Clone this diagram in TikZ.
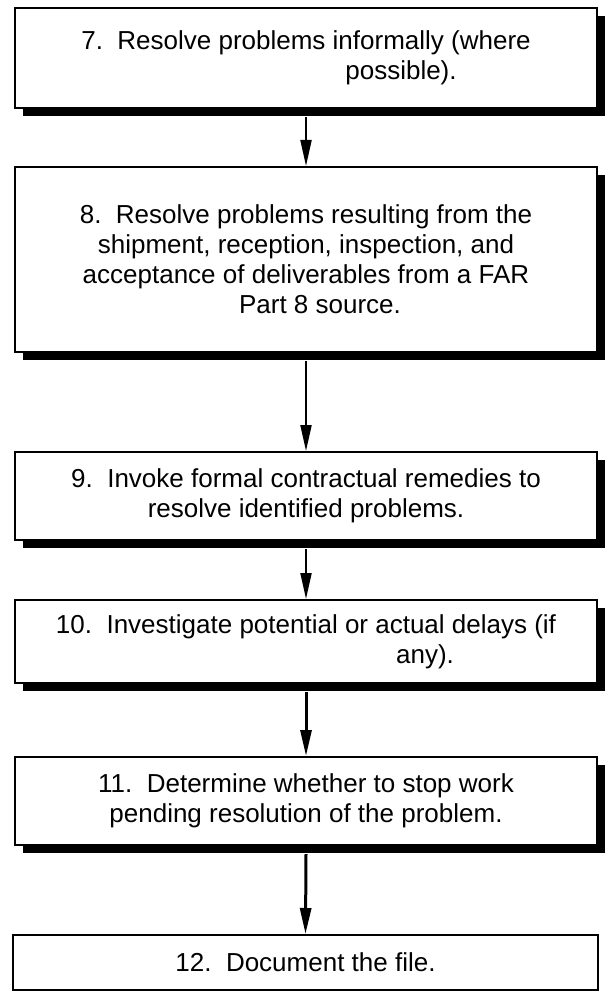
\documentclass[tikz,border=0pt]{standalone}
\usepackage{fontspec}
\setmainfont{Liberation Sans}
\usetikzlibrary{arrows.meta,shadows}
\tikzset{
  stepbox/.style={draw=black, line width=2pt, fill=white, align=center,
    font=\fontsize{26pt}{30pt}\selectfont, inner sep=0pt,
    minimum width=582pt, anchor=center},
  shadowed/.style={drop shadow={shadow xshift=8pt, shadow yshift=-8pt, opacity=1, fill=black}},
  flow/.style={draw=black, line width=2pt, -{Triangle[width=11pt,length=26pt]}},
  flowthick/.style={flow, line width=3pt}
}
\begin{document}
\begin{tikzpicture}[x=1pt,y=-1pt]
\useasboundingbox (0,0) rectangle (605,1000);
\node[stepbox, shadowed, minimum height=100pt] (s7) at (306,58)
  {7.\ \ Resolve problems informally (where\\\hspace*{190pt}possible).};
\node[stepbox, shadowed, minimum height=185pt] (s8) at (306,259.5)
  {8.\ \ Resolve problems resulting from the\\shipment, reception, inspection, and\\acceptance of deliverables from a FAR\\\hspace*{28pt}Part 8 source.};
\node[stepbox, shadowed, minimum height=88pt] (s9) at (306,496)
  {9.\ \ Invoke formal contractual remedies to\\resolve identified problems.};
\node[stepbox, shadowed, minimum height=83pt] (s10) at (306,641.5)
  {10.\ \ Investigate potential or actual delays (if\\\hspace*{238pt}any).};
\node[stepbox, shadowed, minimum height=88pt] (s11) at (306,801)
  {11.\ \ Determine whether to stop work\\pending resolution of the problem.};
\node[stepbox, minimum height=55pt, minimum width=585pt] (s12) at (305.5,962.5)
  {12.\ \ Document the file.};
\draw[flow] ([yshift=-8pt]s7.south) -- (s8.north);
\draw[flow] ([yshift=-8pt]s8.south) -- (s9.north);
\draw[flow] ([yshift=-8pt]s9.south) -- (s10.north);
\draw[flowthick] ([yshift=-8pt]s10.south) -- (s11.north);
\draw[flowthick] ([yshift=-8pt]s11.south) -- (s12.north);
\end{tikzpicture}
\end{document}
